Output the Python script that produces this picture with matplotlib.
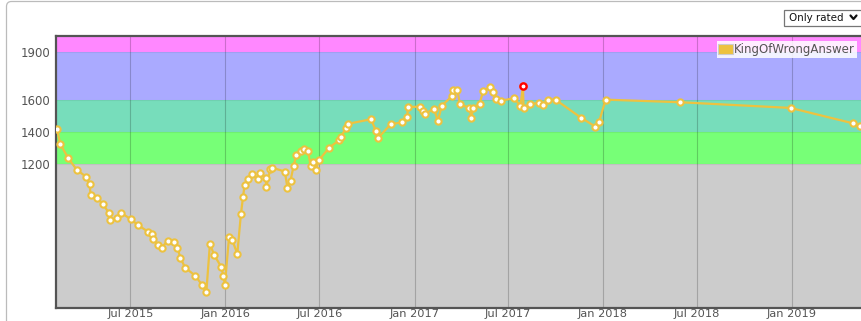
import matplotlib
matplotlib.use("Agg")
import matplotlib.pyplot as plt
import matplotlib.dates as mdates
from matplotlib.patches import FancyBboxPatch, Rectangle, Patch
from matplotlib.lines import Line2D
import numpy as np

# ---------------- data ----------------
contest_dates = [
    "2015-02-09", "2015-02-15", "2015-03-02", "2015-03-19", "2015-04-06", "2015-04-13",
    "2015-04-15", "2015-04-27", "2015-05-09", "2015-05-20", "2015-05-23", "2015-06-05",
    "2015-06-13", "2015-07-02", "2015-07-16", "2015-08-05", "2015-08-11", "2015-08-14",
    "2015-08-24", "2015-08-31", "2015-09-11", "2015-09-24", "2015-09-30", "2015-10-06",
    "2015-10-15", "2015-11-04", "2015-11-16", "2015-11-25", "2015-12-02", "2015-12-10",
    "2015-12-24", "2015-12-28", "2015-12-31", "2016-01-08", "2016-01-14", "2016-01-24",
    "2016-01-31", "2016-02-04", "2016-02-07", "2016-02-14", "2016-02-21", "2016-03-04",
    "2016-03-07", "2016-03-19", "2016-03-20", "2016-03-28", "2016-03-31", "2016-04-25",
    "2016-04-30", "2016-05-06", "2016-05-12", "2016-05-17", "2016-05-26", "2016-06-01",
    "2016-06-09", "2016-06-14", "2016-06-18", "2016-06-24", "2016-06-30", "2016-07-20",
    "2016-08-08", "2016-08-12", "2016-08-21", "2016-08-25", "2016-10-09", "2016-10-18",
    "2016-10-23", "2016-11-16", "2016-12-08", "2016-12-18", "2016-12-19", "2017-01-12",
    "2017-01-17", "2017-01-22", "2017-02-08", "2017-02-15", "2017-02-23", "2017-03-15",
    "2017-03-16", "2017-03-25", "2017-03-30", "2017-04-17", "2017-04-21", "2017-04-25",
    "2017-05-07", "2017-05-14", "2017-05-28", "2017-06-01", "2017-06-08", "2017-06-18",
    "2017-07-13", "2017-07-25", "2017-07-30", "2017-07-31", "2017-08-12", "2017-08-30",
    "2017-09-06", "2017-09-17", "2017-10-01", "2017-11-19", "2017-12-17", "2017-12-24",
    "2018-01-06", "2018-05-29", "2018-12-30", "2019-04-29", "2019-05-13",
]
ratings = [
    1416, 1326, 1238, 1162, 1118, 1072,
    1003, 986, 945, 892, 844, 859,
    890, 851, 813, 771, 756, 729,
    689, 672, 716, 706, 670, 607,
    546, 495, 440, 392, 697, 626,
    551, 494, 440, 741, 720, 634,
    884, 989, 1064, 1102, 1133, 1102,
    1143, 1110, 1052, 1169, 1175, 1150,
    1049, 1094, 1186, 1253, 1279, 1294,
    1277, 1184, 1213, 1162, 1222, 1301,
    1347, 1370, 1422, 1450, 1479, 1407,
    1363, 1448, 1459, 1495, 1556, 1558,
    1531, 1514, 1546, 1466, 1565, 1625,
    1663, 1663, 1573, 1550, 1489, 1552,
    1577, 1657, 1680, 1649, 1605, 1596,
    1611, 1563, 1688, 1552, 1573, 1582,
    1567, 1602, 1602, 1489, 1433, 1460,
    1602, 1586, 1550, 1454, 1439,
]
handle_name = "KingOfWrongAnswer"
band_lower = [0, 1200, 1400, 1600, 1900]
band_upper = [1200, 1400, 1600, 1900, 2400]
band_colors = ["#CCCCCC", "#77FF77", "#77DDBB", "#AAAAFF", "#FF88FF"]
ytick_values = [1200, 1400, 1600, 1900]
selector_text = "Only rated"

# ---------------- figure ----------------
W, H = 861, 321
fig = plt.figure(figsize=(W / 100, H / 100), dpi=100)
fig.patch.set_facecolor("white")

# overlay axes in pixel coordinates for page decorations
ov = fig.add_axes([0, 0, 1, 1])
ov.set_xlim(0, W)
ov.set_ylim(H, 0)
ov.axis("off")
ov.patch.set_visible(False)
ov.add_patch(FancyBboxPatch((6.5, 1.5), 900, 400, boxstyle="round,pad=0,rounding_size=5",
                            fc="none", ec="#BBBBBB", lw=0.9))
ov.add_patch(Rectangle((783.5, 9.5), 90, 16.5, fc="white", ec="#767676", lw=0.9))
ov.text(789, 18, selector_text, fontsize=7.4, color="#111111", va="center", ha="left")
ov.add_line(Line2D([850.5, 853.5, 856.5], [15.5, 19, 15.5], color="#111111", lw=1.6,
                   solid_capstyle="round", solid_joinstyle="round"))

ax = fig.add_axes([56 / W, 1 - 308.3 / H, (866 - 56) / W, (308.3 - 36) / H])

x = np.array(contest_dates, dtype="datetime64[D]")
r = np.array(ratings)

for lo, hi, c in zip(band_lower, band_upper, band_colors):
    ax.axhspan(lo, hi, color=c, lw=0, zorder=0)
for b in band_lower[1:]:
    ax.axhline(b, color="black", alpha=0.06, lw=0.8, zorder=0.4)

ax.set_axisbelow(True)
ax.grid(axis="x", color="black", alpha=0.2, lw=0.8)
ax.grid(axis="y", visible=False)

ax.plot(x, r, color="#EDC240", lw=1.6, marker="o", ms=4.5, mfc="white",
        mec="#EDC240", mew=1.5, zorder=3, label=handle_name)
imax = int(np.argmax(r))
ax.plot(x[imax], r[imax], "o", ms=4.5, mfc="white", mec="#FF0000", mew=1.7, zorder=4)

ax.set_ylim(291, 2002)
ax.set_xlim(np.datetime64("2015-02-07"), np.datetime64("2019-05-25"))
ax.set_yticks(ytick_values)
ax.xaxis.set_major_locator(mdates.MonthLocator(bymonth=[1, 7]))
ax.xaxis.set_major_formatter(mdates.DateFormatter("%b %Y"))
ax.tick_params(length=0, labelsize=8.5, labelcolor="#545454")
ax.tick_params(axis="x", pad=0.3, labelsize=8.2)
ax.tick_params(axis="y", pad=4)

for s in ax.spines.values():
    s.set_color("#545454")
    s.set_linewidth(1.6)

leg_handle = Patch(facecolor="#EDC240", edgecolor="#CCCCCC", lw=0.8)
leg = ax.legend([leg_handle], [handle_name], loc="upper right",
                bbox_to_anchor=(857 / W, 1 - 41 / H), bbox_transform=fig.transFigure,
                fontsize=8.5, frameon=True, framealpha=0.85, edgecolor="none",
                facecolor="white", fancybox=False, borderpad=0.15, borderaxespad=0,
                handlelength=1.2, handleheight=0.9, handletextpad=0.15)
for t in leg.get_texts():
    t.set_color("#545454")

fig.savefig("out.png", dpi=100, facecolor="white")
